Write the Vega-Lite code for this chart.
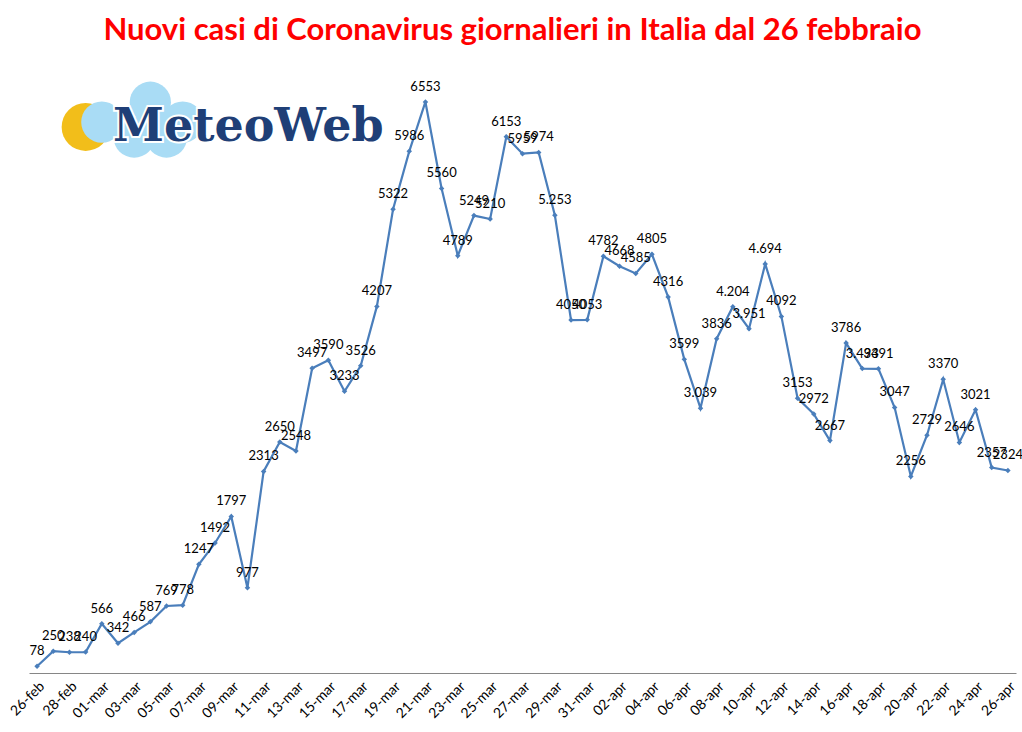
{
  "$schema": "https://vega.github.io/schema/vega-lite/v6.json",
  "width": 987,
  "height": 610,
  "padding": {"left": 7, "top": 15, "right": 0, "bottom": 0},
  "title": {
    "text": "Nuovi casi di Coronavirus giornalieri in Italia dal 26 febbraio",
    "color": "#FF0000",
    "font": "Lato",
    "fontSize": 31,
    "fontWeight": "bold",
    "anchor": "middle",
    "dx": -10,
    "offset": 16
  },
  "data": {
    "values": [
      {"d": "26-feb", "v": 78, "l": "78"},
      {"d": "27-feb", "v": 250, "l": "250"},
      {"d": "28-feb", "v": 238, "l": "238"},
      {"d": "29-feb", "v": 240, "l": "240"},
      {"d": "01-mar", "v": 566, "l": "566"},
      {"d": "02-mar", "v": 342, "l": "342"},
      {"d": "03-mar", "v": 466, "l": "466"},
      {"d": "04-mar", "v": 587, "l": "587"},
      {"d": "05-mar", "v": 769, "l": "769"},
      {"d": "06-mar", "v": 778, "l": "778"},
      {"d": "07-mar", "v": 1247, "l": "1247"},
      {"d": "08-mar", "v": 1492, "l": "1492"},
      {"d": "09-mar", "v": 1797, "l": "1797"},
      {"d": "10-mar", "v": 977, "l": "977"},
      {"d": "11-mar", "v": 2313, "l": "2313"},
      {"d": "12-mar", "v": 2650, "l": "2650"},
      {"d": "13-mar", "v": 2548, "l": "2548"},
      {"d": "14-mar", "v": 3497, "l": "3497"},
      {"d": "15-mar", "v": 3590, "l": "3590"},
      {"d": "16-mar", "v": 3233, "l": "3233"},
      {"d": "17-mar", "v": 3526, "l": "3526"},
      {"d": "18-mar", "v": 4207, "l": "4207"},
      {"d": "19-mar", "v": 5322, "l": "5322"},
      {"d": "20-mar", "v": 5986, "l": "5986"},
      {"d": "21-mar", "v": 6553, "l": "6553"},
      {"d": "22-mar", "v": 5560, "l": "5560"},
      {"d": "23-mar", "v": 4789, "l": "4789"},
      {"d": "24-mar", "v": 5249, "l": "5249"},
      {"d": "25-mar", "v": 5210, "l": "5210"},
      {"d": "26-mar", "v": 6153, "l": "6153"},
      {"d": "27-mar", "v": 5959, "l": "5959"},
      {"d": "28-mar", "v": 5974, "l": "5974"},
      {"d": "29-mar", "v": 5253, "l": "5.253"},
      {"d": "30-mar", "v": 4050, "l": "4050"},
      {"d": "31-mar", "v": 4053, "l": "4053"},
      {"d": "01-apr", "v": 4782, "l": "4782"},
      {"d": "02-apr", "v": 4668, "l": "4668"},
      {"d": "03-apr", "v": 4585, "l": "4585"},
      {"d": "04-apr", "v": 4805, "l": "4805"},
      {"d": "05-apr", "v": 4316, "l": "4316"},
      {"d": "06-apr", "v": 3599, "l": "3599"},
      {"d": "07-apr", "v": 3039, "l": "3.039"},
      {"d": "08-apr", "v": 3836, "l": "3836"},
      {"d": "09-apr", "v": 4204, "l": "4.204"},
      {"d": "10-apr", "v": 3951, "l": "3.951"},
      {"d": "11-apr", "v": 4694, "l": "4.694"},
      {"d": "12-apr", "v": 4092, "l": "4092"},
      {"d": "13-apr", "v": 3153, "l": "3153"},
      {"d": "14-apr", "v": 2972, "l": "2972"},
      {"d": "15-apr", "v": 2667, "l": "2667"},
      {"d": "16-apr", "v": 3786, "l": "3786"},
      {"d": "17-apr", "v": 3493, "l": "3.493"},
      {"d": "18-apr", "v": 3491, "l": "3491"},
      {"d": "19-apr", "v": 3047, "l": "3047"},
      {"d": "20-apr", "v": 2256, "l": "2256"},
      {"d": "21-apr", "v": 2729, "l": "2729"},
      {"d": "22-apr", "v": 3370, "l": "3370"},
      {"d": "23-apr", "v": 2646, "l": "2646"},
      {"d": "24-apr", "v": 3021, "l": "3021"},
      {"d": "25-apr", "v": 2357, "l": "2357"},
      {"d": "26-apr", "v": 2324, "l": "2324"}
    ]
  },
  "encoding": {
    "x": {
      "field": "d",
      "type": "ordinal",
      "sort": null,
      "scale": {"type": "point", "padding": 0.5},
      "axis": {
        "title": null,
        "labelAngle": -45,
        "labelFont": "Lato",
        "labelFontSize": 14,
        "labelColor": "#000000",
        "domainColor": "#868686",
        "ticks": false,
        "labelPadding": 6,
        "values": ["26-feb", "28-feb", "01-mar", "03-mar", "05-mar", "07-mar", "09-mar", "11-mar", "13-mar", "15-mar", "17-mar", "19-mar", "21-mar", "23-mar", "25-mar", "27-mar", "29-mar", "31-mar", "02-apr", "04-apr", "06-apr", "08-apr", "10-apr", "12-apr", "14-apr", "16-apr", "18-apr", "20-apr", "22-apr", "24-apr", "26-apr"]
      }
    },
    "y": {
      "field": "v",
      "type": "quantitative",
      "scale": {"domain": [0, 7000], "nice": false},
      "axis": null
    }
  },
  "layer": [
    {
      "mark": {"type": "line", "color": "#4A7EBB", "strokeWidth": 2.2}
    },
    {
      "mark": {"type": "point", "shape": "diamond", "filled": true, "color": "#4A7EBB", "size": 30, "opacity": 1}
    },
    {
      "mark": {"type": "text", "font": "Lato", "fontSize": 13, "color": "#000000", "dy": -15},
      "encoding": {"text": {"field": "l"}}
    },
    {
      "data": {"values": [{"x": "29-feb", "y": 6266}]},
      "mark": {"type": "point", "shape": "circle", "filled": true, "color": "#F2BE1A", "size": 2300, "opacity": 1},
      "encoding": {"x": {"field": "x", "type": "ordinal", "sort": null}, "y": {"field": "y", "type": "quantitative"}}
    },
    {
      "data": {"values": [{"x": "01-mar", "y": 6322}, {"x": "04-mar", "y": 6550}, {"x": "06-mar", "y": 6322}, {"x": "03-mar", "y": 6150}, {"x": "05-mar", "y": 6150}]},
      "mark": {"type": "point", "shape": "circle", "filled": true, "color": "#A9DCF5", "size": 1700, "opacity": 1},
      "encoding": {"x": {"field": "x", "type": "ordinal", "sort": null}, "y": {"field": "y", "type": "quantitative"}}
    },
    {
      "data": {"values": [{"x": "02-mar", "y": 6266, "t": "MeteoWeb"}]},
      "mark": {"type": "text", "font": "DejaVu Serif", "fontWeight": "bold", "fontSize": 46, "color": "#1F3F77", "align": "left", "baseline": "middle", "stroke": "#FFFFFF", "strokeWidth": 4, "dx": -5},
      "encoding": {"x": {"field": "x", "type": "ordinal", "sort": null}, "y": {"field": "y", "type": "quantitative"}, "text": {"field": "t"}}
    },
    {
      "data": {"values": [{"x": "02-mar", "y": 6266, "t": "MeteoWeb"}]},
      "mark": {"type": "text", "font": "DejaVu Serif", "fontWeight": "bold", "fontSize": 46, "color": "#1F3F77", "align": "left", "baseline": "middle", "dx": -5},
      "encoding": {"x": {"field": "x", "type": "ordinal", "sort": null}, "y": {"field": "y", "type": "quantitative"}, "text": {"field": "t"}}
    }
  ],
  "config": {"view": {"stroke": null}}
}
